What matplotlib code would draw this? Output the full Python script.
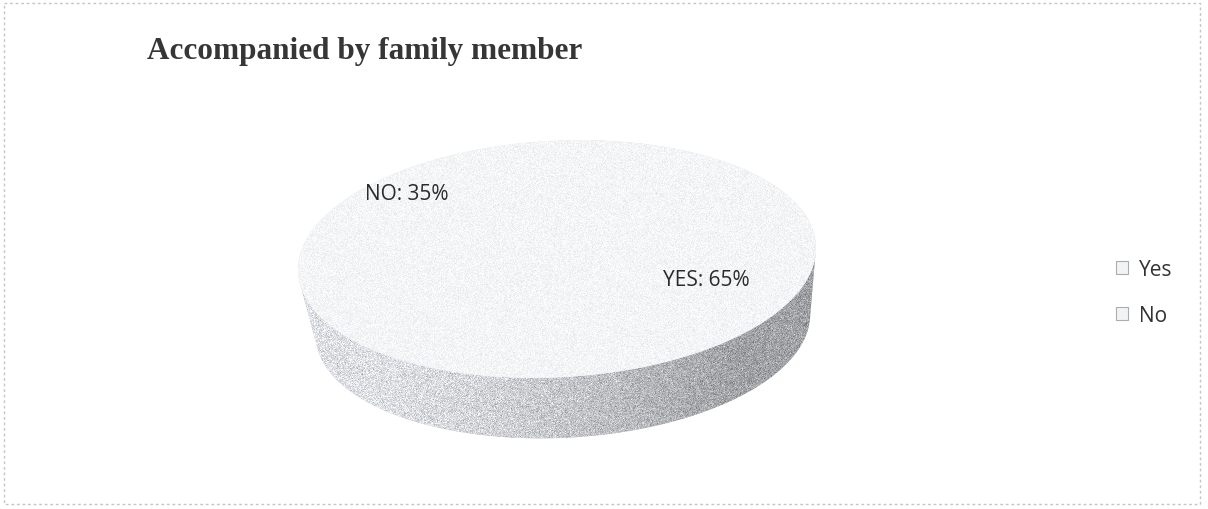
import numpy as np
import matplotlib.pyplot as plt
from matplotlib.patches import Polygon, Rectangle, Patch

labels = ["Yes", "No"]
values = [65, 35]
data_labels = ["YES: 65%", "NO: 35%"]
title = "Accompanied by family member"

# pie geometry in pixel units (y grows downward)
cx, cy = 557, 260
rx, ry = 259, 118
tilt = np.radians(3.0)        # left side sits a little lower
shift_x, shift_y = 6, 66      # offset of the base rim (gives the side its depth)
base_scale = 0.955            # base rim drawn a bit smaller, as if further away

top_color = "#f4f5f6"
rng = np.random.default_rng(7)


def ellipse_xy(phi_deg, dx=0, dy=0, scale=1.0):
    # phi measured clockwise from 12 o'clock
    phi = np.radians(np.asarray(phi_deg, dtype=float))
    ex = scale * rx * np.sin(phi)
    ey = -scale * ry * np.cos(phi)
    x = cx + ex * np.cos(tilt) + ey * np.sin(tilt) + dx
    y = cy - ex * np.sin(tilt) + ey * np.cos(tilt) + dy
    return np.column_stack([x, y])


def hull(pts):
    # monotone chain convex hull
    pts = pts[np.lexsort((pts[:, 1], pts[:, 0]))]

    def half(seq):
        out = []
        for p in seq:
            while len(out) >= 2:
                a, b = out[-2], out[-1]
                if (b[0] - a[0]) * (p[1] - a[1]) - (b[1] - a[1]) * (p[0] - a[0]) <= 0:
                    out.pop()
                else:
                    break
            out.append(p)
        return out

    lower = half(pts)
    upper = half(pts[::-1])
    return np.array(lower[:-1] + upper[:-1])


fig = plt.figure(figsize=(12.08, 5.10), dpi=100)
ax = fig.add_axes([0, 0, 1, 1])
ax.set_xlim(0, 1208)
ax.set_ylim(510, 0)
ax.axis("off")

phis = np.linspace(0, 360, 721)
rim = ellipse_xy(phis)
base = ellipse_xy(phis, dx=shift_x, dy=shift_y, scale=base_scale)
body = hull(np.vstack([rim, base]))

x0, x1 = int(body[:, 0].min()) - 2, int(body[:, 0].max()) + 3
y0, y1 = int(body[:, 1].min()) - 2, int(body[:, 1].max()) + 3
h, w = y1 - y0, x1 - x0

# side shading: light grey on the left, darker toward the right
t = np.linspace(0, 1, w)
shade = 0.87 - 0.24 * np.clip((t - 0.15) / 0.7, 0, 1) ** 1.4
side_base = np.repeat(shade[None, :, None], h, axis=0) * np.array([1.0, 1.01, 1.03])
side_img = np.clip(side_base + rng.normal(0, 0.07, (h, w, 1)), 0, 1)

side_patch = Polygon(body, closed=True, facecolor="#c4c7ca", edgecolor="none")
ax.add_patch(side_patch)
im = ax.imshow(side_img, extent=(x0, x1, y1, y0), interpolation="nearest",
               zorder=2)
im.set_clip_path(side_patch)

# top face wedges, clockwise from 12 o'clock
fracs = np.array(values) / np.sum(values)
bounds = np.concatenate([[0], np.cumsum(fracs) * 360])
top_patches = []
for k in range(len(values)):
    arc = ellipse_xy(np.linspace(bounds[k], bounds[k + 1], 300))
    p = Polygon(np.vstack([[cx, cy], arc]), closed=True,
                facecolor=top_color, edgecolor=top_color, lw=0.5, zorder=3)
    ax.add_patch(p)
    top_patches.append(p)

# light speckle over the top face
top_img = np.clip(np.ones((h, w, 3)) * np.array([0.955, 0.962, 0.968])
                  + rng.normal(0, 0.025, (h, w, 1)), 0, 1)
for p in top_patches:
    im = ax.imshow(top_img, extent=(x0, x1, y1, y0), interpolation="nearest",
                   zorder=4)
    im.set_clip_path(p)

# data labels
ax.text(706, 281, data_labels[0], fontsize=15, family="Open Sans",
        color="#2b2b2b", ha="center", va="center", zorder=5)
ax.text(407, 195, data_labels[1], fontsize=15, family="Open Sans",
        color="#2b2b2b", ha="center", va="center", zorder=5)

ax.text(147, 52, title, fontsize=22.5, family="Liberation Serif",
        fontweight="bold", color="#363636", ha="left", va="center")

handles = [Patch(facecolor="#f2f3f4", edgecolor="#a9adb2", lw=0.8, label=l)
           for l in labels]
fig.legend(handles=handles, loc="center left", bbox_to_anchor=(0.9085, 0.425),
           frameon=False, handlelength=0.55, handleheight=0.55,
           handletextpad=0.55, labelspacing=1.2, labelcolor="#333333",
           prop={"family": "Open Sans", "size": 15})

# chart area border
ax.add_patch(Rectangle((4, 4), 1196, 501, fill=False, edgecolor="#c3c6c9",
                       lw=1.0, linestyle=(0, (2, 2))))

ax.set_xlim(0, 1208)
ax.set_ylim(510, 0)
fig.savefig("out.png", dpi=100, facecolor="white")
